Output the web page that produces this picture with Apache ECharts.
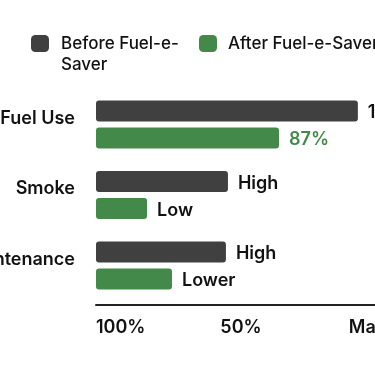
<!DOCTYPE html>
<html><head><meta charset="utf-8">
<script src="https://cdn.jsdelivr.net/npm/echarts@6/dist/echarts.min.js"></script>
<style>html,body{margin:0;padding:0;overflow:hidden;background:#fff;width:375px;height:366px}#c{width:400px;height:366px}</style>
</head><body><div id="c"></div>
<script>
const categories = ['Fuel Use', 'Smoke', 'Maintenance'];
const seriesNames = ['Before Fuel-e-Saver', 'After Fuel-e-Saver'];
const beforeValues = [90.3, 45.5, 44.8];
const afterValues = [63.1, 17.6, 26.2];
const beforeLabels = ['100%', 'High', 'High'];
const afterLabels = ['87%', 'Low', 'Lower'];
const axisTicks = {0: '100%', 50: '50%', 100: 'Max'};

const FONT = 'Inter';
const W = 600;
const DARK = '#404040';
const GREEN = '#43894a';
const TXT = '#111';
const chart = echarts.init(document.getElementById('c'), null, {renderer: 'canvas'});
chart.setOption({
  animation: false,
  textStyle: {fontFamily: FONT},
  legend: [
    {data: [seriesNames[0]], left: 31, top: 12, padding: 0, icon: 'roundRect',
     itemWidth: 18, itemHeight: 17,
     formatter: () => '\nBefore Fuel-e-\nSaver',
     textStyle: {fontFamily: FONT, fontSize: 17, fontWeight: 500, color: TXT, lineHeight: 21, padding: [0, 0, 0, 7]}},
    {data: [seriesNames[1]], left: 199, top: 33, padding: 0, icon: 'roundRect',
     itemWidth: 18, itemHeight: 17,
     textStyle: {fontFamily: FONT, fontSize: 17, fontWeight: 500, color: TXT, lineHeight: 21, padding: [0, 0, 0, 6]}}
  ],
  grid: {left: 96, right: 14, top: 89.25, bottom: 65.25, containLabel: false, outerBoundsMode: 'none'},
  xAxis: {
    type: 'value', min: 0, max: 100, interval: 50, offset: 4,
    splitLine: {show: false},
    axisTick: {show: false},
    axisLine: {show: true, lineStyle: {color: '#222', width: 2}},
    axisLabel: {
      formatter: v => axisTicks[v] ?? '',
      fontFamily: FONT, fontSize: 18, fontWeight: W, color: TXT, margin: 14,
      alignMinLabel: 'left', alignMaxLabel: 'right'
    }
  },
  yAxis: {
    type: 'category', data: categories, inverse: true,
    axisLine: {show: false}, axisTick: {show: false},
    axisLabel: {
      formatter: v => '{c|' + v + '}',
      margin: 21,
      rich: {c: {fontFamily: FONT, fontSize: 18, fontWeight: W, color: TXT, padding: [0, 0, 12, 0]}}
    }
  },
  series: [
    {name: seriesNames[0], type: 'bar', data: beforeValues, barWidth: 21, barGap: '28%',
     itemStyle: {color: DARK, borderRadius: 3},
     label: {show: true, position: 'right', distance: 10, offset: [0, 2], formatter: p => beforeLabels[p.dataIndex],
             fontFamily: FONT, fontSize: 18, fontWeight: W, color: TXT}},
    {name: seriesNames[1], type: 'bar', barWidth: 21,
     data: afterValues.map((v, i) => ({value: v, label: {color: i === 0 ? GREEN : TXT}})),
     itemStyle: {color: GREEN, borderRadius: 3},
     label: {show: true, position: 'right', distance: 10, offset: [0, 2], formatter: p => afterLabels[p.dataIndex],
             fontFamily: FONT, fontSize: 18, fontWeight: W, color: TXT}}
  ]
});
</script></body></html>
